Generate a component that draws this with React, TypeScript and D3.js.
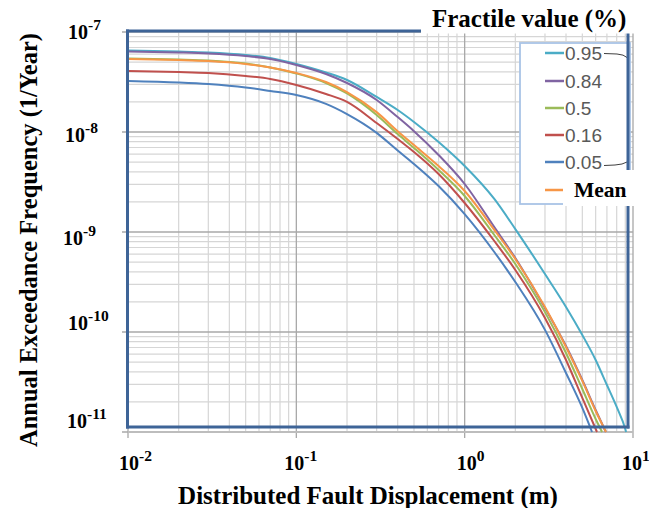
import React from "react";
import * as d3 from "d3";

// ---- data ----
const displacement = [0.01, 0.02, 0.03, 0.05, 0.07, 0.1, 0.15, 0.2, 0.3, 0.4, 0.5, 0.7, 1, 1.5, 2, 3, 4, 5, 6, 7, 8, 9];

const fractile95 = [6.53e-8, 6.38e-8, 6.24e-8, 5.89e-8, 5.5e-8, 4.79e-8, 3.94e-8, 3.31e-8, 2.24e-8, 1.66e-8, 1.26e-8, 7.94e-9, 4.57e-9, 2.14e-9, 1.07e-9, 3.8e-10, 1.78e-10, 9.33e-11, 5.25e-11, 2.95e-11, 1.78e-11, 1.07e-11];
const fractile84 = [6.38e-8, 6.24e-8, 6.1e-8, 5.75e-8, 5.37e-8, 4.68e-8, 3.8e-8, 3.09e-8, 2.09e-8, 1.41e-8, 1.02e-8, 5.89e-9, 3.02e-9, 1.12e-9, 5.5e-10, 1.74e-10, 7.24e-11, 3.31e-11, 1.66e-11];
const fractile50 = [5.43e-8, 5.31e-8, 5.19e-8, 4.84e-8, 4.42e-8, 3.85e-8, 3.09e-8, 2.43e-8, 1.48e-8, 9.55e-9, 6.92e-9, 4.17e-9, 2.29e-9, 9.33e-10, 4.79e-10, 1.58e-10, 6.17e-11, 2.69e-11, 1.35e-11];
const fractile16 = [4.07e-8, 3.98e-8, 3.89e-8, 3.63e-8, 3.39e-8, 2.95e-8, 2.4e-8, 2.0e-8, 1.23e-8, 8.51e-9, 6.31e-9, 3.8e-9, 1.95e-9, 8.13e-10, 4.17e-10, 1.38e-10, 5.25e-11, 2.19e-11];
const fractile05 = [3.24e-8, 3.13e-8, 3.02e-8, 2.79e-8, 2.57e-8, 2.34e-8, 1.91e-8, 1.51e-8, 9.8e-9, 6.53e-9, 4.79e-9, 2.88e-9, 1.51e-9, 6.31e-10, 3.16e-10, 1.05e-10, 3.89e-11, 1.74e-11];
const meanCurve = [5.37e-8, 5.25e-8, 5.13e-8, 4.79e-8, 4.42e-8, 3.89e-8, 3.16e-8, 2.51e-8, 1.58e-8, 1.02e-8, 7.41e-9, 4.57e-9, 2.57e-9, 1.05e-9, 5.37e-10, 1.78e-10, 7.08e-11, 3.24e-11, 1.62e-11];

// displacement where each curve reaches the bottom of the axis (1e-11)
const endDisplacement = [9.1, 6.9, 6.55, 6.11, 5.71, 6.91];
const seriesNames = ["0.95", "0.84", "0.5", "0.16", "0.05", "Mean"];
const seriesValues = [fractile95, fractile84, fractile50, fractile16, fractile05, meanCurve];
const seriesColors = ["#4bacc6", "#8064a2", "#9bbb59", "#c0504d", "#4f81bd", "#f79646"];

const xTickValues = [0.01, 0.1, 1, 10];
const xTickExponents = ["-2", "-1", "0", "1"];
const yTickValues = [1e-7, 1e-8, 1e-9, 1e-10, 1e-11];
const yTickExponents = ["-7", "-8", "-9", "-10", "-11"];

const xTitle = "Distributed Fault Displacement (m)";
const yTitle = "Annual Exceedance Frequency (1/Year)";
const legendTitle = "Fractile value (%)";

// ---- layout ----
const W = 649;
const H = 508;
const SERIF = "'Liberation Serif', 'Times New Roman', serif";
const SANS = "'Liberation Sans', Arial, sans-serif";
const FRAME = "#3e6497";
const yLabelX = [68, 65, 63, 68, 67];
const yLabelDy = [7, 10, 13, -2, -4];
const xLabelDx = [-9, -12, -8, -11];

export default function App() {
  const x = d3.scaleLog().domain([0.01, 10]).range([128, 633]);
  const y = d3.scaleLog().domain([1e-11, 1e-7]).range([432, 32]);

  const line = d3
    .line<[number, number]>()
    .x((d) => x(d[0]))
    .y((d) => y(d[1]))
    .curve(d3.curveMonotoneX);

  const minorX: number[] = [];
  [0.01, 0.1, 1].forEach((b) => {
    for (let k = 2; k <= 9; k++) minorX.push(b * k);
  });
  const minorY: number[] = [];
  [1e-11, 1e-10, 1e-9, 1e-8].forEach((b) => {
    for (let k = 2; k <= 9; k++) minorY.push(b * k);
  });

  const legendY = [53, 81, 108, 135, 162, 190];

  return (
    <svg width={W} height={H} style={{ position: "absolute", left: 0, top: 0, background: "#fff" }}>
      <rect x={0} y={0} width={W} height={H} fill="#fff" />
      {/* minor grid */}
      {minorX.map((v, i) => (
        <line key={"mx" + i} x1={x(v)} x2={x(v)} y1={32} y2={433} stroke="#d6d6d6" strokeWidth={1.2} />
      ))}
      {minorY.map((v, i) => (
        <line key={"my" + i} x1={128} x2={633} y1={y(v)} y2={y(v)} stroke="#d6d6d6" strokeWidth={1.2} />
      ))}
      {/* major grid */}
      {xTickValues.map((v, i) => (
        <line key={"Mx" + i} x1={x(v)} x2={x(v)} y1={32} y2={438} stroke="#a8a8a8" strokeWidth={1.3} />
      ))}
      {yTickValues.map((v, i) => (
        <line key={"My" + i} x1={122} x2={633} y1={y(v)} y2={y(v)} stroke="#a8a8a8" strokeWidth={1.3} />
      ))}
      {/* bottom axis line */}
      <line x1={128} x2={633} y1={432} y2={432} stroke="#bdbdbd" strokeWidth={2} />

      {/* curves */}
      {seriesValues.map((vals, si) => {
        const pts: [number, number][] = vals.map((v, i) => [displacement[i], v]);
        pts.push([endDisplacement[si], 1e-11]);
        return (
          <path key={"s" + si} d={line(pts) || ""} fill="none" stroke={seriesColors[si]} strokeWidth={2} />
        );
      })}

      {/* legend box */}
      <rect x={520} y={43} width={110} height={161} fill="#fff" stroke="#a9c4e6" strokeWidth={1.8} />
      {seriesNames.map((name, i) => (
        <line key={"ls" + i} x1={545} x2={564} y1={legendY[i]} y2={legendY[i]} stroke={seriesColors[i]} strokeWidth={2.5} />
      ))}
      {seriesNames.slice(0, 5).map((name, i) => (
        <text key={"lt" + i} x={565} y={legendY[i] + 7} fontFamily={SANS} fontSize={19} fill="#595959">
          {name}
        </text>
      ))}
      <path d="M604,53.5 L617,54 Q624,54.5 627,57.5" fill="none" stroke="#404040" strokeWidth={1} />
      <path d="M604,165.5 L615,165 Q623,164.5 627,162" fill="none" stroke="#404040" strokeWidth={1} />

      {/* frame */}
      <line x1={127.5} x2={127.5} y1={29.5} y2={428.5} stroke={FRAME} strokeWidth={3} />
      <line x1={126} x2={629.5} y1={427} y2={427} stroke={FRAME} strokeWidth={3} />
      <line x1={126} x2={630} y1={31} y2={31} stroke={FRAME} strokeWidth={3} />
      <line x1={628} x2={628} y1={33} y2={428.5} stroke={FRAME} strokeWidth={3} />

      {/* Mean label box */}
      <rect x={563} y={170} width={86} height={36} fill="#fff" />
      <text x={574} y={197} fontFamily={SERIF} fontWeight="bold" fontSize={21.5} fill="#000">
        {seriesNames[5]}
      </text>

      {/* legend title */}
      <rect x={421} y={0} width={228} height={33.5} fill="#fff" />
      <text x={432} y={27} fontFamily={SERIF} fontWeight="bold" fontSize={25} fill="#000">
        {legendTitle}
      </text>

      {/* y tick labels */}
      {yTickValues.map((v, i) => (
        <text key={"yl" + i} x={yLabelX[i]} y={y(v) + yLabelDy[i]} fontFamily={SERIF} fontWeight="bold" fontSize={20} fill="#000">
          10
          <tspan fontSize={15.5} dy={-9}>
            {yTickExponents[i]}
          </tspan>
        </text>
      ))}
      {/* x tick labels */}
      {xTickValues.map((v, i) => (
        <text key={"xl" + i} x={x(v) + xLabelDx[i]} y={470} fontFamily={SERIF} fontWeight="bold" fontSize={20} fill="#000">
          10
          <tspan fontSize={15.5} dy={-9}>
            {xTickExponents[i]}
          </tspan>
        </text>
      ))}

      {/* axis titles */}
      <text x={368} y={504} textAnchor="middle" fontFamily={SERIF} fontWeight="bold" fontSize={25} fill="#000">
        {xTitle}
      </text>
      <text
        transform="translate(37,240) rotate(-90)"
        textAnchor="middle"
        fontFamily={SERIF}
        fontWeight="bold"
        fontSize={24.5}
        fill="#000"
      >
        {yTitle}
      </text>
    </svg>
  );
}
